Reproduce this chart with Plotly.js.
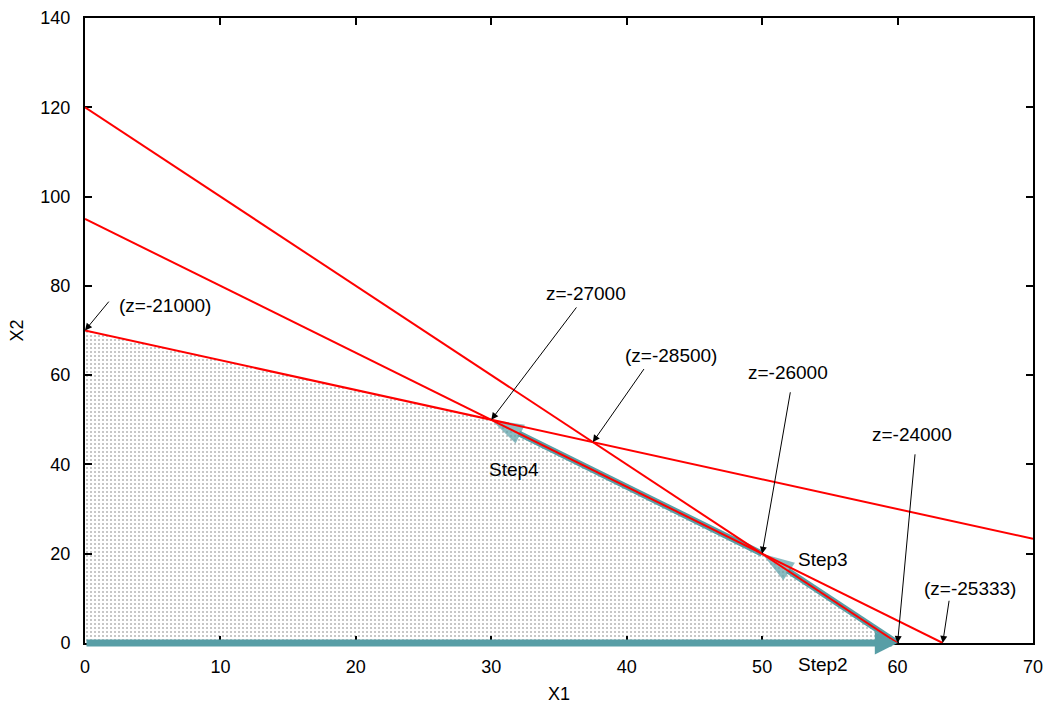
<!DOCTYPE html>
<html><head><meta charset="utf-8">
<script src="https://cdn.plot.ly/plotly-3.0.1.min.js"></script>
<style>body{margin:0;background:#fff}#c{width:1051px;height:708px}</style>
</head><body><div id="c"></div>
<script>
// Constraint lines (x1, x2 endpoints)
var line1X = [0, 60], line1Y = [120, 0];       // 2x1 + x2 = 120
var line2X = [0, 63.333], line2Y = [95, 0];    // 3x1 + 2x2 = 190
var line3X = [0, 70], line3Y = [70, 23.333];   // 2x1 + 3x2 = 210
// Feasible region vertices
var regionX = [0, 0, 30, 50, 60, 0];
var regionY = [0, 70, 50, 20, 0, 0];
// Simplex steps
var stepFromX = [0, 60, 50], stepFromY = [0, 0, 20];
var stepToX = [60, 50, 30], stepToY = [0, 20, 50];
var stepLabels = ['Step2', 'Step3', 'Step4'];
var stepLabelX = [54.5, 54.5, 31.7];
var stepLabelY = [-0.035, 0.1344, 0.2784];   // paper fraction
// Objective value annotations
var zTexts = ['(z=-21000)', 'z=-27000', '(z=-28500)', 'z=-26000', 'z=-24000', '(z=-25333)'];
var zPtX = [0, 30, 37.5, 50, 60, 63.333];
var zPtY = [70, 50, 45, 20, 0, 0];
var zTailX = [1.85, 36.37, 41.35, 52.1, 61.3, 63.82];
var zTailY = [76.8, 75.5, 61.7, 56.5, 42.6, 9.8];
var zLabelX = [5.94, 37.0, 43.3, 51.9, 61.1, 65.35];
var zLabelY = [75.5, 78.2, 64.3, 60.5, 46.6, 12.3];

var red = '#ff0000', teal = '#589ea6';
var FONT = 'Liberation Sans, Arial, sans-serif';
var traces = [
  {x: regionX, y: regionY, mode: 'lines', fill: 'toself', line: {width: 0},
   fillcolor: 'rgba(0,0,0,0)',
   fillpattern: {shape: '.', fgcolor: '#000', fillmode: 'overlay', size: 4, solidity: 0.13},
   hoverinfo: 'skip', showlegend: false}
];
// Step3 and Step4 drawn as traces (under the red lines)
for (var i = 1; i < stepLabels.length; i++) {
  traces.push({x: [stepFromX[i], stepToX[i]], y: [stepFromY[i], stepToY[i]],
    mode: 'lines+markers', cliponaxis: false, showlegend: false, hoverinfo: 'skip',
    line: {color: teal, width: 6},
    marker: {symbol: ['circle', 'arrow'], size: [0, 34], color: teal,
      angleref: 'previous', line: {width: 0}}});
}
traces.push({x: line1X, y: line1Y, mode: 'lines', line: {color: red, width: 2}, showlegend: false, cliponaxis: false});
traces.push({x: line2X, y: line2Y, mode: 'lines', line: {color: red, width: 2}, showlegend: false, cliponaxis: false});
traces.push({x: line3X, y: line3Y, mode: 'lines', line: {color: red, width: 2}, showlegend: false, cliponaxis: false});

var ann = [];
// Step2 on the x axis, as an annotation arrow so it is not clipped
ann.push({x: stepToX[0], y: stepToY[0], ax: stepFromX[0], ay: stepFromY[0],
  xref: 'x', yref: 'y', axref: 'x', ayref: 'y', text: '', showarrow: true,
  arrowcolor: teal, arrowwidth: 7, arrowhead: 2, arrowsize: 0.65, standoff: 0});
for (var k = 0; k < stepLabels.length; k++) {
  ann.push({x: stepLabelX[k], y: stepLabelY[k], xref: 'x', yref: 'paper', text: stepLabels[k],
    xanchor: 'center', yanchor: 'middle',
    showarrow: false, font: {family: FONT, size: 19, color: '#000'}});
}
for (var j = 0; j < zTexts.length; j++) {
  ann.push({x: zPtX[j], y: zPtY[j], ax: zTailX[j], ay: zTailY[j],
    xref: 'x', yref: 'y', axref: 'x', ayref: 'y', text: '', showarrow: true,
    arrowcolor: '#000', arrowwidth: 1, arrowhead: 2, arrowsize: 1.4, standoff: 0});
  ann.push({x: zLabelX[j], y: zLabelY[j], xref: 'x', yref: 'y', text: zTexts[j],
    xanchor: 'center', yanchor: 'middle',
    showarrow: false, font: {family: FONT, size: 19, color: '#000'}});
}
var axisCommon = {showgrid: false, zeroline: false, showline: true, linecolor: '#000',
  linewidth: 2, mirror: 'ticks', ticks: 'inside', ticklen: 7, tickwidth: 2, tickcolor: '#000',
  layer: 'below traces',
  tickfont: {family: FONT, size: 18, color: '#000'}};
var layout = {
  width: 1051, height: 708,
  margin: {l: 85, r: 18, t: 18, b: 65},
  paper_bgcolor: '#fff', plot_bgcolor: '#fff',
  xaxis: Object.assign({}, axisCommon, {range: [0, 70], dtick: 10, ticklabelstandoff: 6,
    title: {text: 'X1', standoff: 12, font: {family: FONT, size: 18, color: '#000'}}}),
  yaxis: Object.assign({}, axisCommon, {range: [0, 140], dtick: 20, ticklabelstandoff: 9,
    title: {text: 'X2', standoff: 12, font: {family: FONT, size: 18, color: '#000'}}}),
  annotations: ann
};
Plotly.newPlot('c', traces, layout, {displayModeBar: false, staticPlot: true});
</script></body></html>
